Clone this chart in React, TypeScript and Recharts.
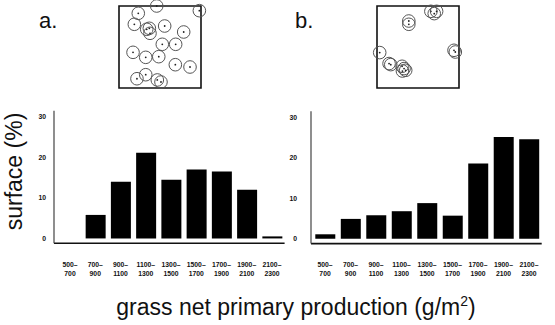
import React from 'react';
import {
  BarChart,
  Bar,
  XAxis,
  YAxis,
  ScatterChart,
  Scatter,
  ReferenceArea,
} from 'recharts';

// NPP classes (g/m2) shared by both histograms
const ranges = [
  '500–700',
  '700–900',
  '900–1100',
  '1100–1300',
  '1300–1500',
  '1500–1700',
  '1700–1900',
  '1900–2100',
  '2100–2300',
];

// % of surface per class
const surfaceA = [0, 5.8, 14, 21.1, 14.5, 17, 16.5, 12, 0.5];
const surfaceB = [1.1, 4.9, 5.8, 6.8, 8.8, 5.7, 18.6, 25.1, 24.6];

const yTicks = [0, 10, 20, 30];

// sample sites inside the unit square (0-100)
const sitesAX = [46, 98, 23.5, 18.7, 33.8, 37, 37.8, 55.7, 78.9, 52.8, 69.1, 17.1, 32.6, 48.5, 68.7, 86.6, 21.9, 32.6, 46.7, 51.2];
const sitesAY = [100, 94.3, 91.1, 77.7, 71.6, 72.8, 66.7, 75.6, 68.3, 53.3, 53.3, 43.5, 37.4, 38.2, 28.4, 25.6, 11.3, 16.2, 9.8, 7.3];

const sitesBX = [65.7, 69.8, 72.7, 38.8, 38.8, 3.3, 93.9, 95.5, 14.7, 16.8, 30.6, 33, 31, 35];
const sitesBY = [93.5, 90.7, 93.5, 81.7, 77.7, 43.2, 46, 43.9, 29.8, 28.5, 26.5, 23.7, 20.7, 21.6];

const font = 'Liberation Sans, Arial, sans-serif';

const histA = ranges.map((range, i) => ({ range, value: surfaceA[i] }));
const histB = ranges.map((range, i) => ({ range, value: surfaceB[i] }));
const pointsA = sitesAX.map((x, i) => ({ x, y: sitesAY[i] }));
const pointsB = sitesBX.map((x, i) => ({ x, y: sitesBY[i] }));

const RangeTick = (props: any) => {
  const { x, y, payload } = props;
  const [lo, hi] = String(payload.value).split('–');
  return (
    <text x={x} y={y} textAnchor="middle" fontSize={6.8} fontWeight="bold" fill="#111" fontFamily={font}>
      <tspan x={x} dy={23.4}>{lo}–</tspan>
      <tspan x={x} dy={9}>{hi}</tspan>
    </text>
  );
};

const SiteMark = (props: any) => {
  const { cx, cy } = props;
  return (
    <g>
      <circle cx={cx} cy={cy} r={6.3} fill="none" stroke="#555" strokeWidth={1} />
      <circle cx={cx} cy={cy} r={0.9} fill="#222" />
    </g>
  );
};

const Histogram = ({
  data,
  width,
  margin,
  padLeft,
  tickGap,
}: {
  data: { range: string; value: number }[];
  width: number;
  margin: { top: number; right: number; bottom: number; left: number };
  padLeft: number;
  tickGap: number;
}) => (
  <BarChart width={width} height={190} data={data} margin={margin} barSize={20}>
    <XAxis
      dataKey="range"
      interval={0}
      tickLine={false}
      tickSize={0}
      tickMargin={0}
      height={40}
      padding={{ left: padLeft, right: 0 }}
      axisLine={{ stroke: '#111', strokeWidth: 1.6 }}
      tick={<RangeTick />}
    />
    <YAxis
      domain={[-1.2, 31.5]}
      ticks={yTicks}
      width={25}
      tickLine={false}
      tickSize={0}
      tickMargin={tickGap}
      axisLine={{ stroke: '#444', strokeWidth: 1.2 }}
      tick={{ fontSize: 6.8, fontWeight: 'bold', fill: '#111', fontFamily: font }}
    />
    <Bar dataKey="value" fill="#000" isAnimationActive={false} />
  </BarChart>
);

const SiteMap = ({ points }: { points: { x: number; y: number }[] }) => (
  <ScatterChart width={102} height={98} margin={{ top: 6, right: 10, bottom: 10, left: 10 }}>
    <XAxis type="number" dataKey="x" domain={[0, 100]} hide />
    <YAxis type="number" dataKey="y" domain={[0, 100]} hide />
    <ReferenceArea
      x1={0}
      x2={100}
      y1={0}
      y2={100}
      fill="none"
      fillOpacity={0}
      stroke="#111"
      strokeWidth={1.6}
      ifOverflow="visible"
    />
    <Scatter data={points} shape={<SiteMark />} isAnimationActive={false} />
  </ScatterChart>
);

export default function App() {
  return (
    <div
      style={{
        position: 'absolute',
        left: 0,
        top: 0,
        width: 555,
        height: 325,
        background: '#fff',
        overflow: 'hidden',
      }}
    >
      <div style={{ position: 'absolute', left: 109, top: 0 }}>
        <SiteMap points={pointsA} />
      </div>
      <div style={{ position: 'absolute', left: 367, top: 0 }}>
        <SiteMap points={pointsB} />
      </div>
      <div style={{ position: 'absolute', left: 0, top: 100 }}>
        <Histogram
          data={histA}
          width={290}
          margin={{ top: 10.7, right: 5.4, bottom: 6.7, left: 29 }}
          padLeft={3.4}
          tickGap={8}
        />
      </div>
      <div style={{ position: 'absolute', left: 280, top: 100 }}>
        <Histogram
          data={histB}
          width={270}
          margin={{ top: 11.2, right: 8.3, bottom: 6.4, left: 6 }}
          padLeft={1.3}
          tickGap={14}
        />
      </div>
      <svg
        width={555}
        height={325}
        style={{ position: 'absolute', left: 0, top: 0, pointerEvents: 'none' }}
        fontFamily={font}
      >
        <text x={39} y={28} fontSize={22} fill="#111">a.</text>
        <text x={295} y={28} fontSize={22} fill="#111">b.</text>
        <text x={22} y={171.5} fontSize={23} fill="#111" textAnchor="middle" transform="rotate(-90, 22, 171.5)">
          surface (%)
        </text>
        <text x={296} y={315} fontSize={23} fill="#111" textAnchor="middle">
          <tspan>grass net primary production (g/m</tspan>
          <tspan dy={-9} fontSize={14}>2</tspan>
          <tspan dy={9}>)</tspan>
        </text>
      </svg>
    </div>
  );
}
